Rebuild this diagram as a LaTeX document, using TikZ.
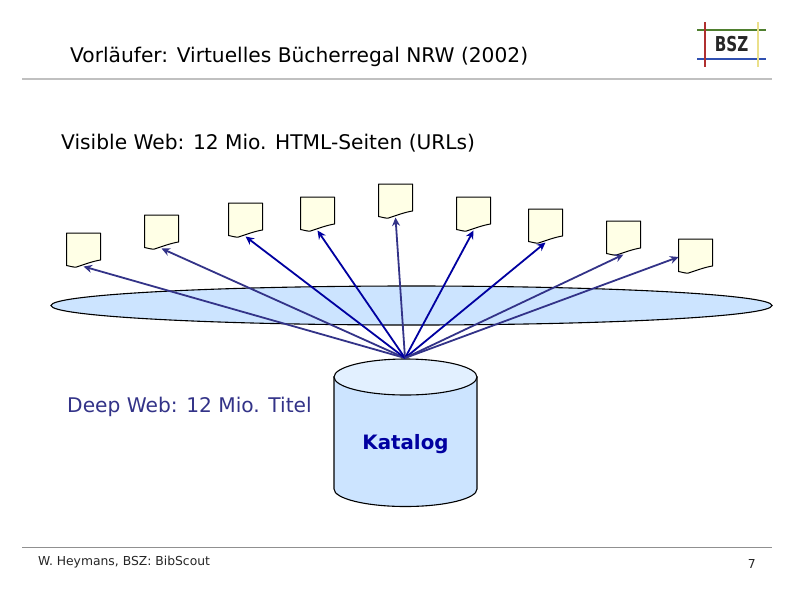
\documentclass[tikz,border=0pt]{standalone}
\usepackage{fontspec}
\setmainfont{DejaVu Sans}
\usetikzlibrary{arrows.meta}
\definecolor{skyfill}{HTML}{CCE4FF}
\definecolor{skytop}{HTML}{E2F0FF}
\definecolor{paper}{HTML}{FFFFE6}
\definecolor{linkdark}{HTML}{0000A0}
\definecolor{linkpale}{HTML}{333388}
\definecolor{rulegray}{HTML}{C0C0C0}
\definecolor{footgray}{HTML}{909090}
\definecolor{logoyellow}{HTML}{EBE08A}
\definecolor{logogreen}{HTML}{4F7F2F}
\definecolor{logored}{HTML}{B03030}
\definecolor{logoblue}{HTML}{3050B0}
\newcommand{\docshape}[3]{%
  \draw[docstyle] (#1,#2) -- ++(34,0) -- ++(0,27)
    .. controls +(-7,1) and +(6,-2) .. ++(-24,7)
    .. controls +(-3,0.5) and +(3,0.5) .. ++(-10,-1.5) -- cycle;
  \coordinate (#3) at (#1+17,#2+33.5);}
\tikzset{
  docstyle/.style={draw=black,fill=paper,line width=1pt,line join=round},
  outline/.style={draw=black,line width=1.1pt},
  darklink/.style={draw=linkdark,line width=1.8pt,-{Stealth[length=8.5pt,width=8pt]}},
  palelink/.style={draw=linkpale,line width=1.8pt,-{Stealth[length=8.5pt,width=8pt]}},
  label/.style={anchor=base west,inner sep=0pt,text=black}
}
\begin{document}
\begin{tikzpicture}[x=1pt,y=-1pt]
\useasboundingbox (0,0) rectangle (794,595);
\fill[white] (0,0) rectangle (794,595);
% header
\draw[rulegray,line width=1.8pt] (22,78.7) -- (772,78.7);
\draw[footgray,line width=1.4pt] (22,547.7) -- (772,547.7);
\node[label,font=\fontsize{20.2}{24}\selectfont] (title) at (70,62.5) {Vorläufer: Virtuelles Bücherregal NRW (2002)};
\node[label,font=\fontsize{20.2}{24}\selectfont] (visible) at (61,149.5) {Visible Web: 12 Mio. HTML-Seiten (URLs)};
% logo
\draw[logogreen,line width=1.2pt] (697,30) -- (766,30);
\draw[logoblue,line width=1.2pt] (697,59) -- (766,59);
\draw[logored,line width=1.2pt] (705,22) -- (705,67);
\draw[logoyellow,line width=1.6pt] (758,22) -- (758,67);
\node[font=\bfseries\fontsize{20.5}{24}\selectfont,text=black!85,inner sep=0pt] (logo) at (731.5,44.5) {\scalebox{0.74}[1]{BSZ}};
% disc
\filldraw[fill=skyfill,outline] (411.5,305.5) ellipse [x radius=360.5,y radius=19.5];
% cylinder
\filldraw[fill=skyfill,outline] (334,377) -- (334,489) arc [start angle=180,end angle=360,x radius=71.5,y radius=-17.5] -- (477,377) -- cycle;
\filldraw[fill=skytop,outline] (405.5,377) ellipse [x radius=71.5,y radius=18];
\coordinate (hub) at (405,358);
\node[font=\bfseries\fontsize{19.8}{24}\selectfont,text=linkdark,inner sep=0pt] (katalog) at (405.5,444.5) {Katalog};
\node[label,text=linkpale,font=\fontsize{20.2}{24}\selectfont] (deep) at (67,412.5) {Deep Web: 12 Mio. Titel};
% documents
\docshape{66.5}{233}{d1}
\docshape{144.5}{215}{d2}
\docshape{228.5}{203}{d3}
\docshape{300.5}{197}{d4}
\docshape{378.5}{184}{d5}
\docshape{456.5}{197}{d6}
\docshape{528.5}{209}{d7}
\docshape{606.5}{221}{d8}
\docshape{678.5}{239}{d9}
\coordinate (t9) at (678.5,257);
% links
\draw[palelink] (hub) -- (d1);
\draw[palelink] (hub) -- (d2);
\draw[darklink] (hub) -- (d3);
\draw[darklink] (hub) -- (d4);
\draw[palelink] (hub) -- (d5);
\draw[darklink] (hub) -- (d6);
\draw[darklink] (hub) -- (d7);
\draw[palelink] (hub) -- (d8);
\draw[palelink] (hub) -- (t9);
% footer
\node[label,font=\fontsize{12.35}{14}\selectfont,text=black!85] (author) at (38,565) {W. Heymans, BSZ: BibScout};
\node[anchor=base east,inner sep=0pt,font=\fontsize{12.35}{14}\selectfont,text=black!85] (page) at (756,568) {7};
\end{tikzpicture}
\end{document}
